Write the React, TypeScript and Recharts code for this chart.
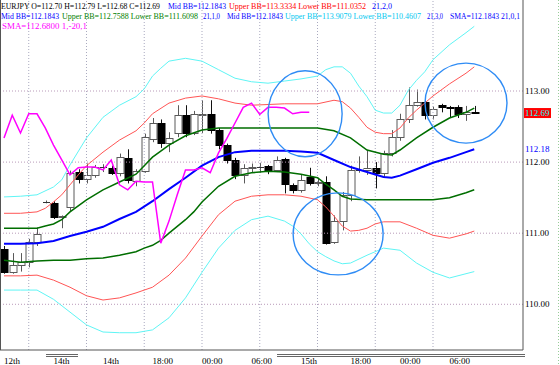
import React from "react";
import { ComposedChart, Bar, Line, XAxis, YAxis, ReferenceLine, ReferenceDot } from "recharts";

// ---- candle data (hourly EUR/JPY) ----
const opens = [110.78, 110.46, 110.55, 110.6, 110.87, 111.44, 111.43, 111.23, 111.37, 111.86, 111.76, 111.82, 111.93, 111.92, 111.84, 112.06, 111.74, 111.87, 112.32, 112.55, 112.27, 112.41, 112.66, 112.41, 112.66, 112.68, 112.45, 112.24, 112.03, 111.82, 111.92, 111.93, 111.94, 111.89, 112.04, 111.68, 111.61, 111.79, 111.71, 111.72, 110.87, 111.17, 111.54, 111.89, 111.89, 111.92, 111.85, 112.13, 112.36, 112.6, 112.8, 112.85, 112.66, 112.8, 112.77, 112.77, 112.67, 112.7];
const highs = [110.82, 110.72, 110.72, 110.92, 111.08, 111.46, 111.45, 111.25, 111.88, 111.9, 111.98, 111.96, 111.97, 111.95, 112.12, 112.18, 111.9, 112.4, 112.62, 112.6, 112.42, 112.8, 112.8, 112.72, 112.87, 112.87, 112.48, 112.26, 112.06, 111.97, 111.98, 111.99, 111.96, 112.08, 112.06, 111.7, 111.83, 111.92, 111.78, 111.8, 111.25, 111.58, 111.95, 112.08, 112.17, 112.0, 112.16, 112.45, 112.68, 113.05, 113.02, 112.88, 112.78, 112.82, 112.79, 112.8, 112.79, 112.79];
const lows = [110.43, 110.43, 110.46, 110.52, 110.82, 111.42, 111.2, 111.07, 111.3, 111.7, 111.7, 111.78, 111.86, 111.82, 111.8, 111.7, 111.66, 111.85, 112.28, 112.2, 112.14, 112.35, 112.35, 112.38, 112.41, 112.4, 112.18, 111.98, 111.76, 111.7, 111.86, 111.85, 111.83, 111.86, 111.56, 111.56, 111.57, 111.67, 111.66, 110.84, 110.85, 111.04, 111.45, 111.85, 111.82, 111.63, 111.78, 112.08, 112.3, 112.55, 112.78, 112.6, 112.6, 112.7, 112.62, 112.62, 112.58, 112.68];
const closes = [110.46, 110.55, 110.6, 110.87, 110.99, 111.44, 111.23, 111.24, 111.85, 111.76, 111.82, 111.93, 111.93, 111.85, 112.07, 111.75, 111.88, 112.35, 112.55, 112.27, 112.34, 112.66, 112.41, 112.68, 112.68, 112.45, 112.24, 112.03, 111.82, 111.92, 111.93, 111.93, 111.89, 112.03, 111.69, 111.61, 111.75, 111.71, 111.72, 110.86, 111.17, 111.54, 111.89, 111.89, 111.92, 111.85, 112.13, 112.36, 112.6, 112.8, 112.84, 112.66, 112.74, 112.77, 112.76, 112.67, 112.7, 112.69];

// magenta SMA(1) shifted -20
const laggedClose = [112.34, 112.66, 112.41, 112.68, 112.68, 112.48, 112.24, 112.03, 111.82, 111.92, 111.93, 111.93, 111.89, 112.03, 111.68, 111.61, 111.73, 111.72, 111.72, 110.86, 111.17, 111.54, 111.89, 111.89, 111.92, 111.85, 112.13, 112.33, 112.55, 112.77, 112.83, 112.67, 112.77, 112.77, 112.76, 112.68, 112.7, 112.7];

// Bollinger lines: [bar index, price]
const midBB: [number, number][] = [[0, 110.85], [2, 110.85], [4, 110.86], [6, 110.89], [8, 110.96], [10, 111.02], [12, 111.09], [14, 111.2], [16, 111.3], [18, 111.45], [20, 111.62], [22, 111.78], [24, 111.95], [26, 112.07], [28, 112.14], [30, 112.16], [32, 112.16], [34, 112.16], [36, 112.15], [38, 112.13], [40, 112.03], [42, 111.93], [44, 111.86], [46, 111.79], [47, 111.78], [48, 111.81], [50, 111.9], [52, 111.99], [54, 112.06], [56, 112.14], [57, 112.18]];
const upper1: [number, number][] = [[0, 111.07], [2, 111.07], [4, 111.07], [5, 111.1], [6, 111.13], [7, 111.19], [8, 111.3], [10, 111.47], [12, 111.61], [14, 111.72], [16, 111.83], [17, 111.95], [18, 112.07], [20, 112.24], [22, 112.37], [24, 112.45], [26, 112.48], [30, 112.48], [34, 112.48], [38, 112.48], [40, 112.44], [42, 112.34], [44, 112.17], [46, 112.11], [47, 112.1], [48, 112.17], [50, 112.34], [52, 112.49], [54, 112.62], [56, 112.7], [57, 112.76]];
const lower1: [number, number][] = [[0, 110.62], [2, 110.59], [4, 110.61], [6, 110.62], [8, 110.62], [10, 110.64], [12, 110.65], [14, 110.69], [16, 110.74], [17, 110.79], [18, 110.83], [19, 110.9], [20, 111.0], [22, 111.19], [23, 111.3], [24, 111.44], [26, 111.66], [28, 111.8], [30, 111.85], [32, 111.87], [34, 111.86], [36, 111.83], [38, 111.78], [39, 111.69], [40, 111.61], [41, 111.52], [42, 111.48], [44, 111.47], [48, 111.47], [52, 111.47], [54, 111.5], [56, 111.57], [57, 111.61]];
const upper2: [number, number][] = [[0, 111.28], [2, 111.28], [4, 111.3], [5, 111.35], [6, 111.44], [7, 111.54], [8, 111.68], [9, 111.82], [10, 111.95], [12, 112.14], [14, 112.31], [16, 112.44], [17, 112.55], [18, 112.68], [20, 112.83], [22, 112.9], [24, 112.93], [26, 112.89], [28, 112.83], [30, 112.8], [34, 112.82], [38, 112.82], [40, 112.87], [41, 112.85], [42, 112.76], [43, 112.63], [44, 112.49], [45, 112.42], [46, 112.4], [47, 112.4], [48, 112.48], [49, 112.62], [50, 112.73], [52, 112.93], [54, 113.1], [56, 113.25], [57, 113.34]];
const lower2: [number, number][] = [[0, 110.4], [2, 110.4], [4, 110.41], [6, 110.34], [8, 110.24], [10, 110.12], [12, 110.06], [14, 110.09], [16, 110.16], [18, 110.24], [20, 110.41], [22, 110.65], [24, 110.96], [26, 111.26], [28, 111.45], [30, 111.52], [32, 111.54], [34, 111.54], [36, 111.52], [38, 111.47], [39, 111.37], [40, 111.24], [41, 111.1], [42, 111.03], [43, 111.04], [44, 111.07], [45, 111.13], [46, 111.16], [48, 111.16], [50, 111.07], [52, 110.97], [54, 110.93], [56, 110.99], [57, 111.03]];
const upper3: [number, number][] = [[0, 111.51], [2, 111.52], [4, 111.54], [6, 111.65], [7, 111.75], [8, 111.96], [10, 112.34], [12, 112.63], [14, 112.8], [16, 112.92], [17, 113.03], [18, 113.21], [19, 113.32], [20, 113.42], [22, 113.46], [24, 113.42], [26, 113.3], [28, 113.18], [30, 113.13], [32, 113.11], [34, 113.14], [36, 113.17], [38, 113.21], [39, 113.3], [40, 113.34], [41, 113.34], [42, 113.25], [43, 113.07], [44, 112.92], [45, 112.73], [46, 112.69], [47, 112.69], [48, 112.8], [49, 113.01], [50, 113.15], [51, 113.27], [52, 113.44], [54, 113.65], [56, 113.82], [57, 113.91]];
const lower3: [number, number][] = [[0, 110.2], [2, 110.2], [4, 110.2], [6, 110.07], [8, 109.89], [10, 109.71], [12, 109.61], [14, 109.6], [16, 109.6], [18, 109.64], [20, 109.81], [22, 110.09], [24, 110.45], [26, 110.79], [28, 111.04], [30, 111.19], [32, 111.24], [34, 111.17], [35, 111.1], [36, 110.99], [37, 110.85], [38, 110.74], [39, 110.67], [40, 110.61], [41, 110.57], [42, 110.58], [44, 110.69], [46, 110.79], [48, 110.76], [50, 110.58], [52, 110.45], [54, 110.37], [56, 110.43], [57, 110.46]];

// highlighted zones: [bar index, price]
const circleCenters: [number, number][] = [[36.5, 112.68], [40.5, 110.99], [56, 112.83]];

// axes
const priceTicks = [110, 111, 112, 113];
const gridBars = [3, 10, 17, 24, 31, 38, 45, 52];
const timeTickBars = [0, 6, 12, 18, 24, 30, 36, 42, 48, 54];
const timeTickLabels = ["12th", "14th", "14th", "18:00", "00:00", "06:00", "15th", "18:00", "00:00", "06:00"];
const lastPrice = 112.69;
const midPrice = 112.18;

// ---- styles ----
const W = 560;
const H = 365;
const FONT = "'Liberation Serif', 'Times New Roman', serif";
const circleRadii = [[37, 43], [45, 41], [41, 40]];

const candles = opens.map((o, i) => ({ i, open: o, high: highs[i], low: lows[i], close: closes[i], range: [lows[i], highs[i]] }));
const toPts = (a: [number, number][]) => a.map(([i, v]) => ({ i, v }));
const lagPts = laggedClose.map((v, i) => ({ i, v }));

const Candle = (props: any) => {
  const { x, width, payload } = props;
  let { y, height } = props;
  if (!payload) return null;
  if (height < 0) { y = y + height; height = -height; }
  const { open: o, close: c, high: h, low: l } = payload;
  const span = h - l;
  const py = (p: number) => (span > 0 ? y + ((h - p) / span) * height : y);
  const cx = Math.round(x + width / 2) + 0.5;
  const bull = c >= o;
  const top = Math.round(py(Math.max(o, c))) + 0.5;
  const bot = Math.round(py(Math.min(o, c))) + 0.5;
  const bh = Math.max(bot - top, 0);
  return (
    <g>
      <line x1={cx} x2={cx} y1={py(h)} y2={py(l)} stroke={bull ? "#5a5a5a" : "#111"} strokeWidth={1} />
      {bh < 1 ? (
        <line x1={cx - 3.5} x2={cx + 3.5} y1={top} y2={top} stroke="#333" strokeWidth={1} />
      ) : (
        <rect x={cx - 3.5} y={top} width={7} height={bh} fill={bull ? "#fff" : "#000"} stroke={bull ? "#5a5a5a" : "#000"} strokeWidth={1} />
      )}
    </g>
  );
};

const YTick = (props: any) => {
  const { x, y, payload } = props;
  return (
    <text x={x + 2} y={y + 3} fontFamily={FONT} fontSize={9} fill="#000" textAnchor="start">
      {Number(payload.value).toFixed(2)}
    </text>
  );
};

const XTick = (props: any) => {
  const { x, payload } = props;
  const idx = timeTickBars.indexOf(payload.value);
  return (
    <text x={x} y={364} fontFamily={FONT} fontSize={9} fill="#000" textAnchor="start">
      {timeTickLabels[idx]}
    </text>
  );
};

const makeEllipse = (k: number) => (p: any) => (
  <ellipse cx={p.cx} cy={p.cy} rx={circleRadii[k][0]} ry={circleRadii[k][1]} fill="none" stroke="#2f8cf5" strokeWidth={1.4} />
);

const LastTag = (p: any) => (
  <g>
    <rect x={p.cx + 1} y={p.cy - 5} width={27} height={10} fill="#ff0000" />
    <text x={p.cx + 2} y={p.cy + 3} fontFamily={FONT} fontSize={9} fill="#00ffff">{lastPrice.toFixed(2)}</text>
  </g>
);
const MidTag = (p: any) => (
  <text x={p.cx + 2} y={p.cy + 3} fontFamily={FONT} fontSize={9} fill="#0000ff">{midPrice.toFixed(2)}</text>
);

const header: { t: string; x: number; w: number; y: number; c: string }[] = [
  { t: "EURJPY O=112.70 H=112.79 L=112.68 C=112.69", x: 1, w: 159, y: 9, c: "#000" },
  { t: "Mid BB=112.1843", x: 168, w: 58, y: 9, c: "#0000ff" },
  { t: "Upper BB=113.3334 Lower BB=111.0352", x: 229, w: 137, y: 9, c: "#ff0000" },
  { t: "21,2,0", x: 372, w: 20, y: 9, c: "#0000ff" },
  { t: "Mid BB=112.1843", x: 1, w: 58, y: 19, c: "#0000ff" },
  { t: "Upper BB=112.7588 Lower BB=111.6098", x: 62, w: 136, y: 19, c: "#008000" },
  { t: "21,1,0", x: 203, w: 17, y: 19, c: "#0000ff" },
  { t: "Mid BB=112.1843", x: 227, w: 56, y: 19, c: "#0000ff" },
  { t: "Upper BB=113.9079 Lower BB=110.4607", x: 285, w: 136, y: 19, c: "#00c8f0" },
  { t: "21,3,0", x: 427, w: 16, y: 19, c: "#0000ff" },
  { t: "SMA=112.1843 21,0,1", x: 450, w: 70, y: 19, c: "#0000ff" },
  { t: "SMA=112.6800 1,-20,1", x: 2, w: 85, y: 29, c: "#ff00ff" },
];

const lineProps = { dot: false, activeDot: false, legendType: "none" as const, isAnimationActive: false, type: "linear" as const };

export default function App() {
  return (
    <div style={{ position: "absolute", left: 0, top: 0, width: W, height: H, background: "#fff" }}>
      <ComposedChart width={W} height={H} data={candles} margin={{ top: 0, right: 0, bottom: 0, left: 0 }}>
        <XAxis dataKey="i" type="number" domain={[-0.4848, 62.909]} allowDataOverflow ticks={timeTickBars} interval={0}
          tick={<XTick />} tickLine={false} axisLine={{ stroke: "#555" }} height={15} />
        <YAxis orientation="right" type="number" domain={[109.357, 114.28]} allowDataOverflow ticks={priceTicks} interval={0}
          tick={<YTick />} tickLine={false} tickSize={0} tickMargin={0} axisLine={{ stroke: "#555" }} width={37} />
        {priceTicks.map((p) => (
          <ReferenceLine key={"h" + p} y={p} stroke="#b99ab9" strokeDasharray="1 2" />
        ))}
        {gridBars.map((b) => (
          <ReferenceLine key={"v" + b} x={b} stroke="#a9a9bf" strokeDasharray="1 2" />
        ))}
        <Bar dataKey="range" barSize={7} shape={<Candle />} isAnimationActive={false} />
        <Line {...lineProps} data={toPts(lower3)} dataKey="v" stroke="#5ff5f5" strokeWidth={1} />
        <Line {...lineProps} data={toPts(upper3)} dataKey="v" stroke="#5ff5f5" strokeWidth={1} />
        <Line {...lineProps} data={toPts(lower2)} dataKey="v" stroke="#ff5555" strokeWidth={1} />
        <Line {...lineProps} data={toPts(upper2)} dataKey="v" stroke="#ff5555" strokeWidth={1} />
        <Line {...lineProps} data={toPts(lower1)} dataKey="v" stroke="#006e00" strokeWidth={1.5} />
        <Line {...lineProps} data={toPts(upper1)} dataKey="v" stroke="#006e00" strokeWidth={1.5} />
        <Line {...lineProps} data={toPts(midBB)} dataKey="v" stroke="#0000ff" strokeWidth={2} />
        <Line {...lineProps} data={lagPts} dataKey="v" stroke="#ff00ff" strokeWidth={1.5} />
        {circleCenters.map(([i, p], k) => (
          <ReferenceDot key={"c" + k} x={i} y={p} r={40} shape={makeEllipse(k)} ifOverflow="visible" />
        ))}
        <ReferenceDot x={62.909} y={lastPrice} r={1} shape={LastTag} ifOverflow="visible" />
        <ReferenceDot x={62.909} y={midPrice} r={1} shape={MidTag} ifOverflow="visible" />
      </ComposedChart>
      <svg width={W} height={H} style={{ position: "absolute", left: 0, top: 0, pointerEvents: "none" }}>
        <line x1={0.5} x2={0.5} y1={0} y2={350} stroke="#555" />
        <line x1={46} x2={78} y1={354.5} y2={354.5} stroke="#666" />
        <line x1={46} x2={78} y1={356.5} y2={356.5} stroke="#666" />
        <line x1={277} x2={525} y1={354.5} y2={354.5} stroke="#666" />
        <line x1={277} x2={525} y1={356.5} y2={356.5} stroke="#666" />
        <line x1={558.5} x2={558.5} y1={0} y2={H} stroke="#9c9" strokeDasharray="1 2" />
        {header.map((h, k) => (
          <text key={k} x={h.x} y={h.y} fontFamily={FONT} fontSize={7.7} fill={h.c} textLength={h.w} lengthAdjust="spacingAndGlyphs">
            {h.t}
          </text>
        ))}
      </svg>
    </div>
  );
}
